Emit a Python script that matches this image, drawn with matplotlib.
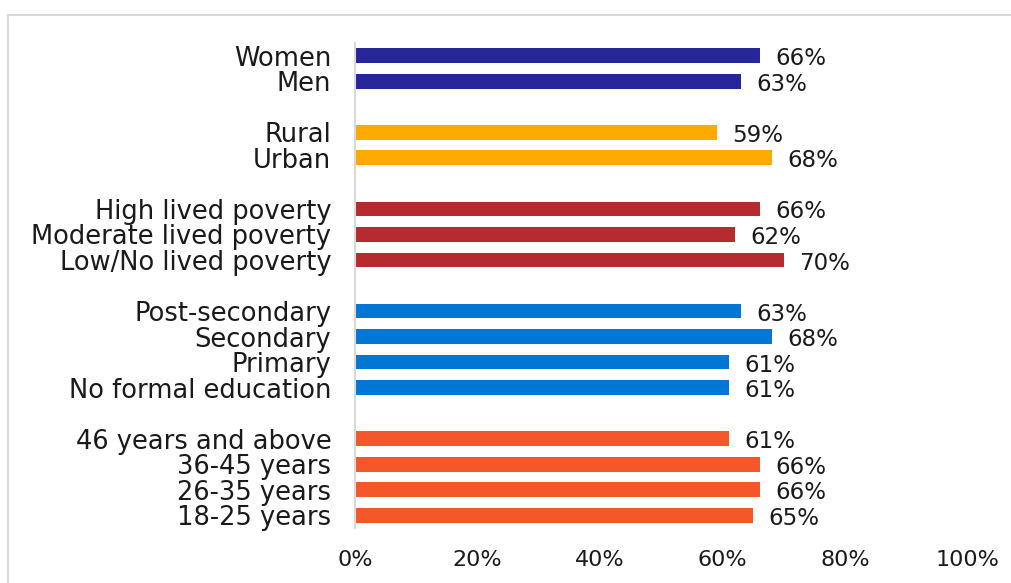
import matplotlib
matplotlib.use("Agg")
import matplotlib.pyplot as plt
from matplotlib.patches import Rectangle

# Groups listed top to bottom
gender_labels = ["Women", "Men"]
gender_values = [66, 63]

location_labels = ["Rural", "Urban"]
location_values = [59, 68]

poverty_labels = ["High lived poverty", "Moderate lived poverty", "Low/No lived poverty"]
poverty_values = [66, 62, 70]

education_labels = ["Post-secondary", "Secondary", "Primary", "No formal education"]
education_values = [63, 68, 61, 61]

age_labels = ["46 years and above", "36-45 years", "26-35 years", "18-25 years"]
age_values = [61, 66, 66, 65]

x_ticks = [0, 20, 40, 60, 80, 100]

groups = [
    (gender_labels, gender_values, "#262699"),
    (location_labels, location_values, "#FFAA00"),
    (poverty_labels, poverty_values, "#B52B30"),
    (education_labels, education_values, "#0077D4"),
    (age_labels, age_values, "#F4582A"),
]

plt.rcParams["font.family"] = ["DejaVu Sans"]
fig = plt.figure(figsize=(10.11, 5.83), dpi=100)

# light frame around the chart area
fig.patches.append(Rectangle((8 / 1011, -0.1), 1.2, 1 - 15 / 583 + 0.1,
                             transform=fig.transFigure, fill=False,
                             edgecolor="#D9D9D9", linewidth=1.5))

ax = fig.add_axes([355 / 1011, 1 - 528 / 583, (968 - 355) / 1011, (528 - 43) / 583])

positions, labels, values, colors = [], [], [], []
slot = 0
for labs, vals, col in groups:
    for lab, val in zip(labs, vals):
        positions.append(slot)
        labels.append(lab)
        values.append(val)
        colors.append(col)
        slot += 1
    slot += 1
n_slots = slot - 1

ax.barh(positions, values, height=0.58, color=colors)
for p, v in zip(positions, values):
    ax.text(v + 2.5, p + 0.12, f"{v}%", va="center", ha="left",
            fontsize=16.5, color="#1a1a1a")

ax.set_ylim(n_slots - 0.5, -0.5)
ax.set_xlim(0, 100)
ax.set_yticks(positions)
ax.set_yticklabels(labels, fontsize=18.5, color="#1a1a1a")
ax.set_xticks(x_ticks)
ax.set_xticklabels([f"{t}%" for t in x_ticks], fontsize=16, color="#1a1a1a")
ax.tick_params(axis="both", length=0)
ax.tick_params(axis="y", pad=17)
ax.tick_params(axis="x", pad=16)
for s in ["top", "right", "bottom"]:
    ax.spines[s].set_visible(False)
ax.spines["left"].set_color("#D9D9D9")
ax.spines["left"].set_linewidth(1.5)

fig.savefig("out.png", dpi=100)
